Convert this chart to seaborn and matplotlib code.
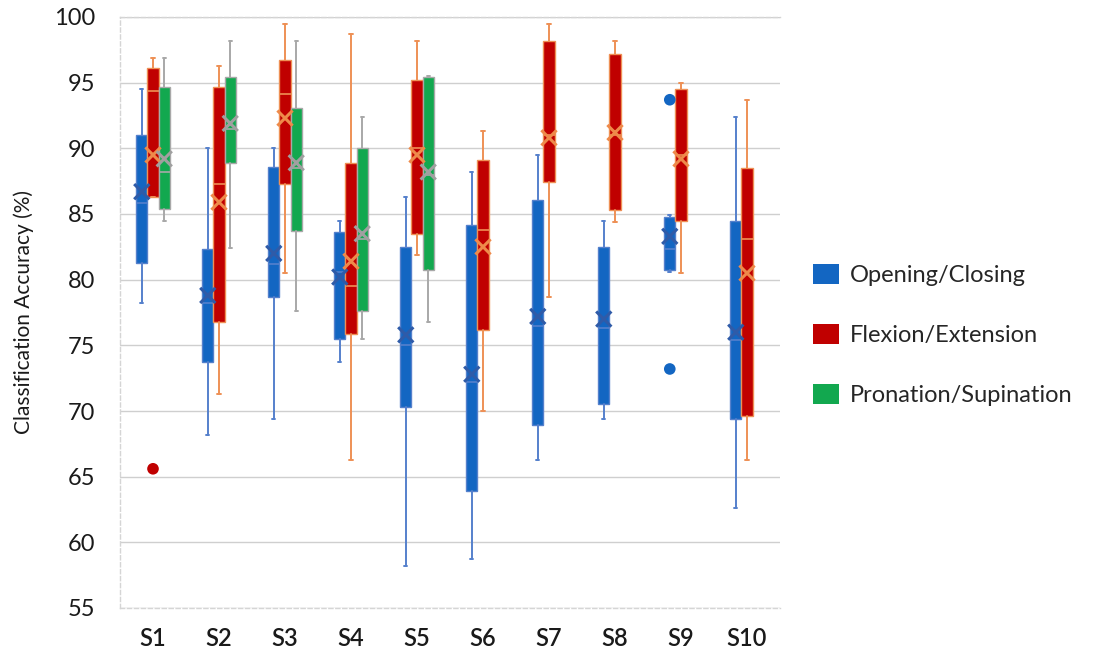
import matplotlib
matplotlib.use("Agg")
import matplotlib.pyplot as plt
from matplotlib.patches import Patch
import seaborn as sns
import pandas as pd
import numpy as np

# ---------------- data ----------------
subjects = ["S1", "S2", "S3", "S4", "S5", "S6", "S7", "S8", "S9", "S10"]
series_names = ["Opening/Closing", "Flexion/Extension", "Pronation/Supination"]

oc_whislo = [78.2, 68.2, 69.4, 73.7, 58.2, 58.7, 66.3, 69.4, 80.6, 62.6]
oc_q1     = [81.3, 73.7, 78.7, 75.5, 70.3, 63.9, 68.9, 70.5, 80.7, 69.4]
oc_med    = [85.8, 78.2, 81.2, 80.6, 75.0, 72.2, 76.5, 76.3, 82.3, 75.4]
oc_q3     = [91.0, 82.3, 88.6, 83.6, 82.5, 84.2, 86.1, 82.5, 84.8, 84.5]
oc_whishi = [94.5, 90.0, 90.0, 84.5, 86.3, 88.2, 89.5, 84.5, 84.9, 92.4]
oc_mean   = [86.7, 78.8, 82.0, 80.2, 75.8, 72.8, 77.2, 77.0, 83.3, 76.0]
oc_fliers = {"S9": [93.7, 73.2]}

fe_whislo = [86.3, 71.3, 80.5, 66.3, 81.9, 70.0, 78.7, 84.4, 80.5, 66.3]
fe_q1     = [86.3, 76.8, 87.3, 75.9, 83.5, 76.2, 87.4, 85.3, 84.5, 69.6]
fe_med    = [94.4, 87.3, 94.1, 79.5, 90.0, 83.8, 91.0, 91.0, 89.5, 83.1]
fe_q3     = [96.1, 94.7, 96.7, 88.9, 95.2, 89.1, 98.2, 97.2, 94.5, 88.5]
fe_whishi = [96.9, 96.3, 99.5, 98.7, 98.2, 91.3, 99.5, 98.2, 95.0, 93.7]
fe_mean   = [89.5, 85.9, 92.3, 81.4, 89.5, 82.5, 90.8, 91.2, 89.2, 80.5]
fe_fliers = {"S1": [65.6]}

ps_subjects = ["S1", "S2", "S3", "S4", "S5"]
ps_whislo = [84.5, 82.4, 77.6, 75.5, 76.8]
ps_q1     = [85.4, 88.9, 83.7, 77.6, 80.7]
ps_med    = [88.2, 91.5, 88.5, 83.1, 88.0]
ps_q3     = [94.7, 95.4, 93.1, 90.0, 95.4]
ps_whishi = [96.9, 98.2, 98.2, 92.4, 95.5]
ps_mean   = [89.2, 91.9, 88.9, 83.5, 88.2]
ps_fliers = {}

y_ticks = [55, 60, 65, 70, 75, 80, 85, 90, 95, 100]

# ---------------- style ----------------
fills = ["#1366C2", "#C00000", "#12A84F"]
borders = ["#5580CC", "#EE9055", "#A8A8A8"]
mean_cols = ["#2F5BA8", "#EE8A4A", "#A0A0A0"]
offsets = [-0.17, 0.0, 0.17]
box_w = 0.17

sns.set_theme(style="whitegrid")
plt.rcParams["font.family"] = ["Lato", "DejaVu Sans"]

fig = plt.figure(figsize=(11.12, 6.53), dpi=100)
ax = fig.add_axes([120 / 1112, (653 - 608) / 653, 660 / 1112, 591 / 653])

series = [
    (subjects, oc_whislo, oc_q1, oc_med, oc_q3, oc_whishi, oc_mean, oc_fliers),
    (subjects, fe_whislo, fe_q1, fe_med, fe_q3, fe_whishi, fe_mean, fe_fliers),
    (ps_subjects, ps_whislo, ps_q1, ps_med, ps_q3, ps_whishi, ps_mean, ps_fliers),
]

rows = []
for si, (subs, wl, q1, md, q3, wh, mn, fl) in enumerate(series):
    stats = []
    pos = []
    for j, s in enumerate(subs):
        stats.append(dict(whislo=wl[j], q1=q1[j], med=md[j], q3=q3[j],
                          whishi=wh[j], mean=mn[j], fliers=[]))
        xi = subjects.index(s) + offsets[si]
        pos.append(xi)
        rows.append(dict(x=xi, y=mn[j], kind="mean", series=series_names[si]))
        for f in fl.get(s, []):
            rows.append(dict(x=xi, y=f, kind="flier", series=series_names[si]))
    ax.bxp(stats, positions=pos, widths=box_w, patch_artist=True,
           showmeans=False, showfliers=False, capwidths=0.05,
           boxprops=dict(facecolor=fills[si], edgecolor=borders[si], linewidth=1.0),
           whiskerprops=dict(color=borders[si], linewidth=1.4),
           capprops=dict(color=borders[si], linewidth=1.4),
           medianprops=dict(color=borders[si], linewidth=1.2),
           manage_ticks=False, zorder=3 + si)

df = pd.DataFrame(rows)
pal = dict(zip(series_names, mean_cols))
pal_f = dict(zip(series_names, fills))
sns.scatterplot(data=df[df.kind == "mean"], x="x", y="y", hue="series",
                palette=pal, marker="x", s=120, linewidth=2.2, ax=ax,
                legend=False, zorder=10)
sns.scatterplot(data=df[df.kind == "flier"], x="x", y="y", hue="series",
                palette=pal_f, marker="o", s=70, edgecolor="none", ax=ax,
                legend=False, zorder=10)

# ---------------- axes ----------------
ax.set_xlim(-0.5, len(subjects) - 0.5)
ax.set_ylim(55, 100)
ax.set_yticks(y_ticks)
ax.set_xticks(range(len(subjects)))
ax.set_xticklabels(subjects, fontsize=17, fontweight="semibold", color="#1a1a1a")
ax.set_yticklabels([str(v) for v in y_ticks], fontsize=17, color="#1a1a1a")
ax.tick_params(axis="both", length=0, pad=14)
ax.tick_params(axis="y", pad=18)
ax.set_xlabel("")
ax.set_ylabel("Classification Accuracy (%)", fontsize=15, color="#1a1a1a", labelpad=14)
ax.grid(axis="y", color="#CFCFCF", linewidth=1.0)
ax.grid(axis="x", visible=False)
ax.set_facecolor("white")
for side in ["left", "bottom", "top", "right"]:
    ax.spines[side].set_color("#D5D5D5")
    ax.spines[side].set_linestyle((0, (3, 2)))
    ax.spines[side].set_linewidth(1.0)
ax.spines["right"].set_visible(False)

handles = [Patch(facecolor=fills[i], edgecolor="none") for i in range(3)]
fig.legend(handles, series_names, loc="upper left",
           bbox_to_anchor=(801 / 1112, 1 - 252 / 653), frameon=False,
           fontsize=17, handlelength=1.1, handleheight=0.95,
           handletextpad=0.45, labelspacing=1.6, borderpad=0)

fig.savefig("out.png", dpi=100, facecolor="white")
